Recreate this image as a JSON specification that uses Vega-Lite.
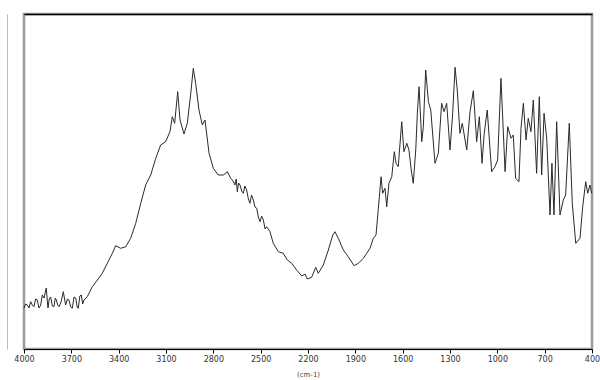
{
  "$schema": "https://vega.github.io/schema/vega-lite/v6.json",
  "width": 568,
  "height": 335,
  "autosize": {"type": "none"},
  "padding": {"left": 24, "top": 14, "right": 8, "bottom": 31},
  "background": "white",
  "config": {
    "view": {"stroke": "#9a9a9a", "strokeWidth": 2.5},
    "font": "DejaVu Sans"
  },
  "data": {
    "values": [
      {"wn": 4000, "v": 40.7}, {"wn": 3990, "v": 45}, {"wn": 3979, "v": 44}, {"wn": 3968, "v": 41}, {"wn": 3958, "v": 47.3}, {"wn": 3947, "v": 44}, {"wn": 3937, "v": 42.3},
      {"wn": 3926, "v": 50}, {"wn": 3916, "v": 49}, {"wn": 3905, "v": 41}, {"wn": 3894, "v": 44}, {"wn": 3884, "v": 54}, {"wn": 3873, "v": 51}, {"wn": 3859, "v": 61},
      {"wn": 3848, "v": 41}, {"wn": 3840, "v": 50}, {"wn": 3831, "v": 52}, {"wn": 3820, "v": 43}, {"wn": 3810, "v": 42.3}, {"wn": 3802, "v": 51}, {"wn": 3795, "v": 49},
      {"wn": 3786, "v": 44}, {"wn": 3778, "v": 42.3}, {"wn": 3765, "v": 47}, {"wn": 3751, "v": 57.3}, {"wn": 3736, "v": 44}, {"wn": 3725, "v": 50}, {"wn": 3715, "v": 49},
      {"wn": 3704, "v": 42}, {"wn": 3694, "v": 40.7}, {"wn": 3683, "v": 52}, {"wn": 3672, "v": 51}, {"wn": 3663, "v": 42}, {"wn": 3656, "v": 40.7}, {"wn": 3646, "v": 53}, {"wn": 3637, "v": 54},
      {"wn": 3628, "v": 45}, {"wn": 3620, "v": 49}, {"wn": 3599, "v": 52.3}, {"wn": 3567, "v": 62.3}, {"wn": 3535, "v": 69},
      {"wn": 3504, "v": 75.7}, {"wn": 3472, "v": 85.7}, {"wn": 3440, "v": 95.7}, {"wn": 3419, "v": 103.3},
      {"wn": 3387, "v": 100.7}, {"wn": 3355, "v": 102.3}, {"wn": 3324, "v": 110.7}, {"wn": 3292, "v": 125.7},
      {"wn": 3260, "v": 145.7}, {"wn": 3229, "v": 164}, {"wn": 3197, "v": 174}, {"wn": 3165, "v": 190.7},
      {"wn": 3134, "v": 204}, {"wn": 3102, "v": 207.3}, {"wn": 3075, "v": 217.3}, {"wn": 3060, "v": 232.3},
      {"wn": 3045, "v": 225.7}, {"wn": 3026, "v": 257.3}, {"wn": 3011, "v": 229}, {"wn": 2986, "v": 215},
      {"wn": 2965, "v": 225.7}, {"wn": 2943, "v": 255.7}, {"wn": 2927, "v": 280.7}, {"wn": 2912, "v": 265.7},
      {"wn": 2891, "v": 239}, {"wn": 2870, "v": 224}, {"wn": 2853, "v": 229}, {"wn": 2827, "v": 195.7},
      {"wn": 2800, "v": 180.7}, {"wn": 2769, "v": 174}, {"wn": 2737, "v": 174}, {"wn": 2711, "v": 177.3},
      {"wn": 2690, "v": 170.7}, {"wn": 2675, "v": 168}, {"wn": 2663, "v": 164}, {"wn": 2655, "v": 170}, {"wn": 2648, "v": 157.3}, {"wn": 2640, "v": 166}, {"wn": 2631, "v": 164},
      {"wn": 2620, "v": 158}, {"wn": 2610, "v": 155.7}, {"wn": 2600, "v": 163}, {"wn": 2589, "v": 159}, {"wn": 2578, "v": 150}, {"wn": 2568, "v": 145.7}, {"wn": 2558, "v": 154}, {"wn": 2547, "v": 149},
      {"wn": 2536, "v": 142}, {"wn": 2525, "v": 140.7}, {"wn": 2515, "v": 132}, {"wn": 2504, "v": 127.3}, {"wn": 2494, "v": 133}, {"wn": 2483, "v": 129}, {"wn": 2472, "v": 120}, {"wn": 2462, "v": 122.3},
      {"wn": 2441, "v": 117.3}, {"wn": 2420, "v": 105.7}, {"wn": 2388, "v": 97.3}, {"wn": 2357, "v": 95.7},
      {"wn": 2331, "v": 89}, {"wn": 2303, "v": 85.7}, {"wn": 2272, "v": 79}, {"wn": 2240, "v": 73},
      {"wn": 2219, "v": 75}, {"wn": 2204, "v": 70}, {"wn": 2177, "v": 71.7}, {"wn": 2151, "v": 81.7},
      {"wn": 2135, "v": 75.7}, {"wn": 2103, "v": 84}, {"wn": 2071, "v": 99}, {"wn": 2043, "v": 114},
      {"wn": 2029, "v": 117.3}, {"wn": 2008, "v": 110.7}, {"wn": 1976, "v": 99}, {"wn": 1945, "v": 92.3},
      {"wn": 1908, "v": 83.3}, {"wn": 1881, "v": 85.7}, {"wn": 1849, "v": 90.7}, {"wn": 1828, "v": 95.7},
      {"wn": 1807, "v": 100.7}, {"wn": 1786, "v": 110.7}, {"wn": 1769, "v": 114}, {"wn": 1754, "v": 140.7},
      {"wn": 1737, "v": 172.3}, {"wn": 1727, "v": 155.7}, {"wn": 1712, "v": 160.7}, {"wn": 1701, "v": 142.3},
      {"wn": 1687, "v": 165.7}, {"wn": 1669, "v": 172.3}, {"wn": 1653, "v": 197.3}, {"wn": 1642, "v": 185.7},
      {"wn": 1628, "v": 182.3}, {"wn": 1606, "v": 227.3}, {"wn": 1592, "v": 197.3}, {"wn": 1574, "v": 205.7},
      {"wn": 1560, "v": 199}, {"wn": 1547, "v": 180.7}, {"wn": 1533, "v": 165.7}, {"wn": 1517, "v": 199},
      {"wn": 1507, "v": 235.7}, {"wn": 1496, "v": 262.3}, {"wn": 1479, "v": 207.3}, {"wn": 1469, "v": 222.3},
      {"wn": 1454, "v": 279}, {"wn": 1437, "v": 247.3}, {"wn": 1422, "v": 239}, {"wn": 1395, "v": 185.7},
      {"wn": 1374, "v": 195.7}, {"wn": 1353, "v": 245.7}, {"wn": 1338, "v": 237.3}, {"wn": 1321, "v": 245.7},
      {"wn": 1300, "v": 199}, {"wn": 1283, "v": 235.7}, {"wn": 1268, "v": 281.7}, {"wn": 1254, "v": 259},
      {"wn": 1237, "v": 215.7}, {"wn": 1222, "v": 225.7}, {"wn": 1194, "v": 199}, {"wn": 1173, "v": 237.3},
      {"wn": 1152, "v": 258.3}, {"wn": 1131, "v": 207.3}, {"wn": 1114, "v": 232.3}, {"wn": 1097, "v": 185.7},
      {"wn": 1083, "v": 215.7}, {"wn": 1064, "v": 239}, {"wn": 1036, "v": 177.3}, {"wn": 1015, "v": 182.3},
      {"wn": 998, "v": 189}, {"wn": 977, "v": 270.7}, {"wn": 951, "v": 177.3}, {"wn": 934, "v": 222.3},
      {"wn": 913, "v": 210.7}, {"wn": 899, "v": 214}, {"wn": 884, "v": 170.7}, {"wn": 863, "v": 167.3},
      {"wn": 850, "v": 220.7}, {"wn": 835, "v": 245.7}, {"wn": 818, "v": 209}, {"wn": 804, "v": 230.7},
      {"wn": 787, "v": 217.3}, {"wn": 772, "v": 249}, {"wn": 751, "v": 175.7}, {"wn": 734, "v": 252.3},
      {"wn": 719, "v": 174}, {"wn": 704, "v": 235.7}, {"wn": 687, "v": 210.7}, {"wn": 666, "v": 134},
      {"wn": 654, "v": 185.7}, {"wn": 641, "v": 134}, {"wn": 624, "v": 227.3}, {"wn": 603, "v": 134},
      {"wn": 582, "v": 149}, {"wn": 567, "v": 154}, {"wn": 544, "v": 225.7}, {"wn": 525, "v": 145.7},
      {"wn": 503, "v": 105.7}, {"wn": 476, "v": 110.7}, {"wn": 459, "v": 142.3}, {"wn": 440, "v": 167.3},
      {"wn": 427, "v": 155.7}, {"wn": 413, "v": 164}, {"wn": 402, "v": 155.7}
    ]
  },
  "layer": [
    {
      "mark": {"type": "line", "color": "#2a2a2a", "strokeWidth": 1, "interpolate": "linear"},
      "encoding": {
        "x": {
          "field": "wn", "type": "quantitative",
          "scale": {"domain": [400, 4000], "reverse": true, "nice": false, "zero": false},
          "axis": {
            "values": [4000, 3700, 3400, 3100, 2800, 2500, 2200, 1900, 1600, 1300, 1000, 700, 400],
            "format": "d",
            "title": "(cm-1)", "titleFont": "DejaVu Sans", "titleFontSize": 7, "titleFontWeight": "normal",
            "titleColor": "#444", "titlePadding": 7,
            "labelFont": "DejaVu Sans", "labelFontSize": 8, "labelColor": "#333", "labelPadding": 2,
            "labelOverlap": false, "labelFlush": false,
            "domainColor": "#000", "domainWidth": 1.2,
            "tickColor": "#000", "tickSize": 4, "tickWidth": 1, "grid": false
          }
        },
        "y": {
          "field": "v", "type": "quantitative",
          "scale": {"domain": [0, 335], "nice": false, "zero": true},
          "axis": {"title": null, "labels": false, "ticks": false, "grid": false,
                   "offset": 17, "domainColor": "#bdbdbd", "domainWidth": 1}
        }
      }
    },
    {
      "mark": {"type": "rule", "opacity": 0},
      "encoding": {
        "x": {
          "field": "wn", "type": "quantitative",
          "axis": {"orient": "top", "title": null, "labels": false, "ticks": false, "grid": false,
                   "domainColor": "#000", "domainWidth": 1.5}
        }
      }
    }
  ],
  "resolve": {"axis": {"x": "independent"}}
}
